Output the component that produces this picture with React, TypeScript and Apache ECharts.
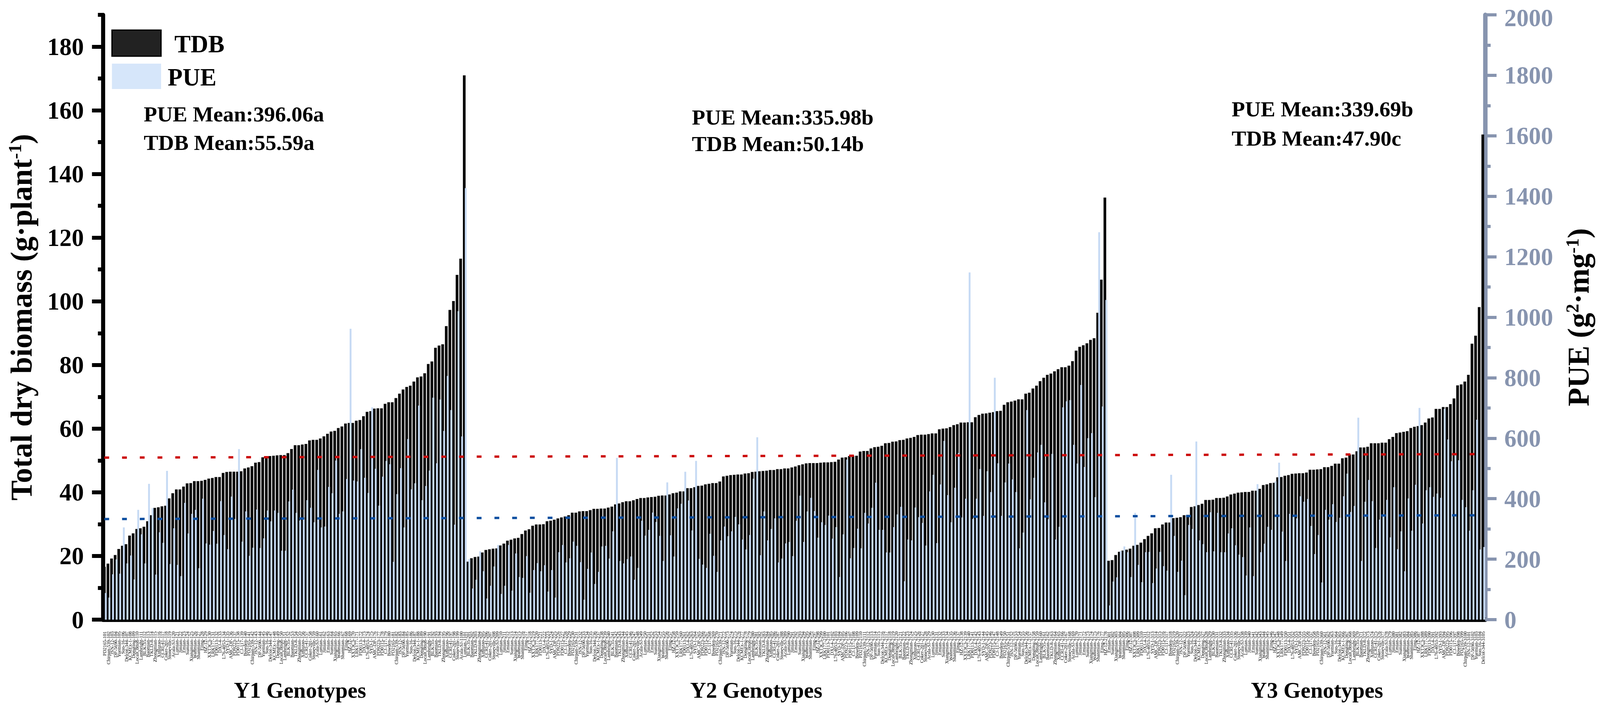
import React, { useEffect, useRef } from "react";
import * as echarts from "echarts";

// ---------- data ----------
const Y1_TDB = [16.6,17.6,19.2,20.3,22.2,23.2,23.7,26.4,27.1,28.5,
 28.7,29.2,30.9,32.8,35.1,35.3,35.6,35.8,38.1,39.7,
 40.9,40.9,41.8,42.8,42.9,43.5,43.5,43.6,43.9,44.3,
 44.5,44.8,44.8,46.1,46.4,46.5,46.5,46.5,46.6,47.5,
 47.8,48.2,49.3,49.5,51.0,51.2,51.4,51.5,51.6,51.7,
 51.7,52.3,53.6,54.8,54.8,55.0,55.2,56.3,56.5,56.5,
 56.9,57.6,58.4,59.1,59.3,60.2,60.7,61.6,61.8,61.8,
 62.5,62.7,63.9,65.3,65.5,66.3,66.4,66.4,67.8,68.3,
 68.3,69.6,71.0,72.3,73.1,73.5,74.8,76.1,76.4,77.4,
 80.3,81.1,85.4,86.1,86.5,92.2,97.3,100.1,108.3,113.4,
 171.0];
const Y1_PUE = [88,73,150,199,152,305,186,212,133,363,
 282,186,449,369,149,289,254,492,184,302,
 181,144,386,285,350,363,170,400,252,248,
 293,251,392,280,233,407,333,564,258,358,
 211,238,364,237,269,361,325,361,353,228,
 228,391,430,353,328,332,395,370,322,495,
 305,308,439,418,526,350,358,465,962,460,
 457,564,469,419,702,499,377,473,525,514,
 191,415,501,305,597,431,451,708,395,442,
 493,734,517,728,624,806,693,314,1020,606,
 1427];
const Y2_TDB = [18.2,19.3,19.7,19.8,21.1,21.9,22.1,22.3,22.4,23.3,
 23.9,24.8,25.1,25.5,25.7,26.9,28.0,28.4,29.5,29.9,
 29.9,30.0,30.9,31.1,31.4,31.8,32.1,32.4,32.8,33.6,
 33.6,34.0,34.1,34.1,34.4,34.8,34.8,34.9,34.9,35.2,
 35.5,36.2,36.5,36.9,37.2,37.2,37.5,37.9,38.2,38.2,
 38.4,38.5,38.6,38.9,39.0,39.0,39.3,39.7,39.9,40.3,
 40.3,41.3,41.3,41.6,42.0,42.1,42.5,42.7,42.9,42.9,
 43.4,45.0,45.2,45.4,45.5,45.6,45.6,45.9,46.0,46.4,
 46.5,46.6,46.7,46.8,47.0,47.0,47.3,47.3,47.5,47.5,
 47.8,48.1,48.5,48.8,49.1,49.2,49.2,49.2,49.3,49.4,
 49.4,49.5,49.6,50.3,50.9,51.0,51.4,51.5,51.5,52.8,
 53.0,53.0,53.8,54.2,54.3,54.6,55.4,55.5,55.9,56.0,
 56.4,56.5,56.9,57.1,57.4,58.0,58.1,58.1,58.3,58.5,
 58.5,59.8,60.0,60.1,60.5,61.1,61.4,61.9,61.9,62.0,
 62.0,63.6,64.3,64.7,64.8,65.0,65.2,65.5,65.6,67.5,
 68.3,68.5,68.8,69.2,69.2,71.0,71.3,72.6,73.5,74.9,
 76.0,76.9,77.3,78.0,78.7,79.3,79.3,79.8,81.2,84.5,
 85.7,86.2,86.8,87.9,88.4,96.4,106.8,132.6];
const Y2_PUE = [200,103,132,226,160,70,112,176,247,85,
 112,247,96,219,141,138,210,89,164,187,
 160,180,93,164,73,223,247,189,203,258,
 244,190,66,168,222,118,158,242,244,202,
 292,535,194,186,200,209,132,171,327,278,
 297,354,323,277,194,454,279,209,368,383,
 489,394,295,525,201,182,171,284,211,158,
 262,308,276,292,340,315,265,232,280,466,
 603,213,358,262,300,335,189,202,252,257,
 210,327,410,257,358,403,359,271,322,313,
 344,268,306,141,282,529,203,237,301,236,
 353,318,370,453,297,297,222,222,306,348,
 373,127,265,262,371,339,320,245,424,479,
 253,447,591,412,322,436,551,338,400,1148,
 333,400,498,343,491,422,800,517,343,454,
 516,464,422,236,288,693,398,469,553,578,
 388,332,548,265,307,702,722,726,578,516,
 776,505,600,617,405,1281,705,1057];
const Y3_TDB = [18.5,18.7,20.3,21.3,21.7,22.0,22.3,23.2,23.5,24.2,
 25.3,26.3,27.1,28.7,28.8,29.9,30.5,30.5,31.9,32.0,
 32.2,32.8,32.9,35.4,35.6,36.0,36.4,37.6,37.6,37.7,
 38.2,38.2,38.3,38.7,39.3,39.6,39.9,40.0,40.1,40.1,
 40.5,40.5,41.1,42.3,42.5,42.9,43.0,44.7,44.8,45.2,
 45.4,45.8,45.9,46.0,46.0,46.2,47.1,47.1,47.2,47.3,
 47.9,47.9,48.3,49.0,49.0,50.7,50.9,51.9,51.9,52.9,
 54.1,54.1,54.3,55.4,55.4,55.4,55.6,55.6,56.7,57.4,
 58.6,58.8,59.0,59.2,60.2,60.6,60.8,61.1,61.9,63.2,
 63.5,66.2,66.2,66.8,66.8,67.7,69.5,73.6,73.9,74.8,
 76.9,86.7,89.2,98.2,152.4];
const Y3_PUE = [47,126,140,227,242,223,141,353,181,124,
 223,224,121,169,224,177,162,479,277,158,
 195,81,313,300,589,262,250,223,355,226,
 353,223,223,285,302,246,215,207,146,305,
 144,448,223,251,307,297,457,519,291,194,
 350,340,335,408,390,399,310,217,280,123,
 363,331,382,323,337,408,483,356,376,668,
 194,390,462,392,237,331,342,396,272,438,
 233,292,160,401,294,446,700,318,428,438,
 406,417,403,697,596,524,547,527,396,372,
 294,428,661,232,240];

const GENOTYPE_BASE = ["XXT3C3","LRK177","PD0113","DXJ-4","L76-4053","SYD-1","AMC-DP","PD9223","PD0115","CJ-117",
 "Bowden","PD2165","Chirpan-539","JSN-12","DP-5690","Yuemian","Suo-16","Delcot-344","KCMEx-1","Dongting",
 "LocalCotton","Lambright","BLK-35","Baomian","TKLD-8","Zhongmian","Xinluzao","CCRI-41","Coker-201","Stoneville",
 "Acala-SJ","Lumian","Jimian","Emian","Sumian","Xiangmian","Wanmian","Shanmian","Ejing","HZ-12"];

const GROUP_TITLES = ["Y1 Genotypes", "Y2 Genotypes", "Y3 Genotypes"];
const PUE_NOTES = ["PUE Mean:396.06a", "PUE Mean:335.98b", "PUE Mean:339.69b"];
const TDB_NOTES = ["TDB Mean:55.59a", "TDB Mean:50.14b", "TDB Mean:47.90c"];
const LEFT_MAJOR = [0, 20, 40, 60, 80, 100, 120, 140, 160, 180];
const LEFT_MINOR = [10, 30, 50, 70, 90, 110, 130, 150, 170, 190];
const RIGHT_MAX = 2000;
const RED_LINE = [50.9, 52.0];
const BLUE_LINE = [31.6, 32.8];

const FONT = '"Liberation Serif", "Times New Roman", serif';
const GRAYBLUE = "#8794af";
const REF_W = 4331;
const REF_H = 1821;

function groupLabels(count: number, g: number): string[] {
  const out: string[] = [];
  for (let i = 0; i < count; i++) {
    out.push(`${GENOTYPE_BASE[(i + g * 11) % GENOTYPE_BASE.length]}-${g}${String(i + 1).padStart(2, "0")}`);
  }
  return out;
}

function buildOption(W: number, H: number): any {
  const sx = W / REF_W;
  const sy = H / REF_H;
  const s = Math.min(sx, sy);
  const X = (v: number) => v * sx;
  const Y = (v: number) => v * sy;
  const F = (v: number) => Math.round(v * s * 10) / 10;

  const categories = [
    ...groupLabels(Y1_TDB.length, 1),
    ...groupLabels(Y2_TDB.length, 2),
    ...groupLabels(Y3_TDB.length, 3),
  ];
  const tdb = [...Y1_TDB, ...Y2_TDB, ...Y3_TDB];
  const pue = [...Y1_PUE, ...Y2_PUE, ...Y3_PUE];
  const first = categories[0];
  const last = categories[categories.length - 1];

  const txt = (text: string, x: number, y: number, size: number, align = "left") => ({
    type: "text",
    x: X(x),
    y: Y(y),
    silent: true,
    style: {
      text,
      fontSize: F(size),
      fontWeight: "bold",
      fontFamily: FONT,
      fill: "#000",
      align,
      verticalAlign: "middle",
      textAlign: align,
      textVerticalAlign: "middle",
    },
  });

  const supRich = { sup: { fontSize: F(49), fontWeight: "bold", fontFamily: FONT, color: "#000", verticalAlign: "top" } };

  return {
    animation: false,
    textStyle: { fontFamily: FONT },
    grid: { left: X(279), right: W - X(4020), top: Y(31), bottom: H - Y(1587), containLabel: false },
    xAxis: [
      {
        type: "category",
        data: categories,
        position: "bottom",
        boundaryGap: true,
        axisLine: { show: true, lineStyle: { color: "#000", width: Y(11) } },
        axisTick: { show: false },
        axisLabel: { interval: 0, rotate: 90, fontSize: F(13), fontFamily: FONT, color: "#000", margin: Y(30) },
        splitLine: { show: false },
      },
      {
        type: "category",
        data: categories,
        position: "top",
        axisLine: { show: true, lineStyle: { color: "#000", width: Y(9) } },
        axisTick: { show: false },
        axisLabel: { show: false },
        splitLine: { show: false },
      },
    ],
    yAxis: [
      {
        type: "value",
        position: "left",
        min: 0,
        max: 190,
        interval: 10,
        axisLine: { show: true, lineStyle: { color: "#000", width: X(11) } },
        axisTick: { show: true, length: X(30), lineStyle: { color: "#000", width: Y(10) }, customValues: LEFT_MAJOR },
        axisLabel: {
          fontSize: F(66), lineHeight: F(46), fontWeight: "bold", fontFamily: FONT, color: "#000", margin: X(52),
          customValues: LEFT_MAJOR, formatter: (v: number) => String(v),
        },
        splitLine: { show: false },
        name: "Total dry biomass (g·plant{sup|-1})",
        nameLocation: "middle",
        nameGap: X(180),
        nameTextStyle: { fontSize: F(82), fontWeight: "bold", fontFamily: FONT, color: "#000", rich: supRich },
      },
      {
        type: "value",
        position: "right",
        min: 0,
        max: RIGHT_MAX,
        interval: 200,
        axisLine: { show: true, lineStyle: { color: GRAYBLUE, width: X(12) } },
        axisTick: { show: true, length: X(31), lineStyle: { color: GRAYBLUE, width: Y(8) } },
        minorTick: { show: true, splitNumber: 2, length: X(15), lineStyle: { color: GRAYBLUE, width: Y(8) } },
        axisLabel: {
          fontSize: F(66), lineHeight: F(46), fontWeight: "bold", fontFamily: FONT, color: GRAYBLUE, margin: X(52),
          formatter: (v: number) => (v === RIGHT_MAX ? `{t|${v}}` : String(v)),
          rich: {
            t: { fontSize: F(66), lineHeight: F(46), fontWeight: "bold", fontFamily: FONT, color: GRAYBLUE, padding: [Y(14), 0, 0, 0] },
          },
        },
        splitLine: { show: false },
        minorSplitLine: { show: false },
        name: "PUE (g{sup|2}·mg{sup|-1})",
        nameLocation: "middle",
        nameGap: X(212),
        nameTextStyle: { fontSize: F(82), fontWeight: "bold", fontFamily: FONT, color: "#000", rich: supRich },
      },
      {
        type: "value",
        position: "left",
        min: 0,
        max: 190,
        interval: 10,
        axisLine: { show: false },
        axisTick: { show: true, length: X(14), lineStyle: { color: "#000", width: Y(10) }, customValues: LEFT_MINOR },
        axisLabel: { show: false },
        splitLine: { show: false },
      },
    ],
    series: [
      {
        name: "TDB",
        type: "bar",
        xAxisIndex: 0,
        yAxisIndex: 0,
        data: tdb,
        barWidth: X(7.3),
        barGap: "-29%",
        itemStyle: { color: "#060606" },
        markLine: {
          silent: true,
          symbol: ["none", "none"],
          label: { show: false },
          data: [
            [
              { coord: [first, RED_LINE[0]], lineStyle: { color: "#cc0a0a", width: Y(6), type: [X(13), X(35)] } },
              { coord: [last, RED_LINE[1]] },
            ],
            [
              { coord: [first, BLUE_LINE[0]], lineStyle: { color: "#0c4ea0", width: Y(6), type: [X(13), X(35)] } },
              { coord: [last, BLUE_LINE[1]] },
            ],
          ],
        },
      },
      {
        name: "PUE",
        type: "bar",
        xAxisIndex: 0,
        yAxisIndex: 1,
        data: pue,
        barWidth: X(5),
        barGap: "-29%",
        itemStyle: { color: "#c6daf4" },
      },
    ],
    graphic: [
      { type: "rect", silent: true, shape: { x: X(303), y: Y(77), width: X(133), height: Y(67) }, style: { fill: "#222", stroke: "#000", lineWidth: 3 } },
      txt("TDB", 472, 112, 66),
      { type: "rect", silent: true, shape: { x: X(303), y: Y(163), width: X(133), height: Y(65) }, style: { fill: "#d6e6fa" } },
      txt("PUE", 454, 197, 66),
      txt(PUE_NOTES[0], 389, 292, 59),
      txt(TDB_NOTES[0], 389, 365, 59),
      txt(PUE_NOTES[1], 1873, 300, 59),
      txt(TDB_NOTES[1], 1873, 368, 59),
      txt(PUE_NOTES[2], 3334, 279, 59),
      txt(TDB_NOTES[2], 3334, 354, 59),
      txt(GROUP_TITLES[0], 812, 1767, 60, "center"),
      txt(GROUP_TITLES[1], 2047, 1767, 60, "center"),
      txt(GROUP_TITLES[2], 3565, 1767, 60, "center"),
    ],
  };
}

export default function App() {
  const ref = useRef<HTMLDivElement>(null);
  useEffect(() => {
    document.body.style.margin = "0";
    document.body.style.overflow = "hidden";
    const el = ref.current!;
    const W = el.clientWidth || window.innerWidth || REF_W;
    const H = el.clientHeight || window.innerHeight || REF_H;
    const chart = echarts.init(el, null, { renderer: "svg", width: W, height: H });
    chart.setOption(buildOption(W, H));
    return () => chart.dispose();
  }, []);
  return <div ref={ref} style={{ position: "fixed", left: 0, top: 0, width: "100vw", height: "100vh" }} />;
}
